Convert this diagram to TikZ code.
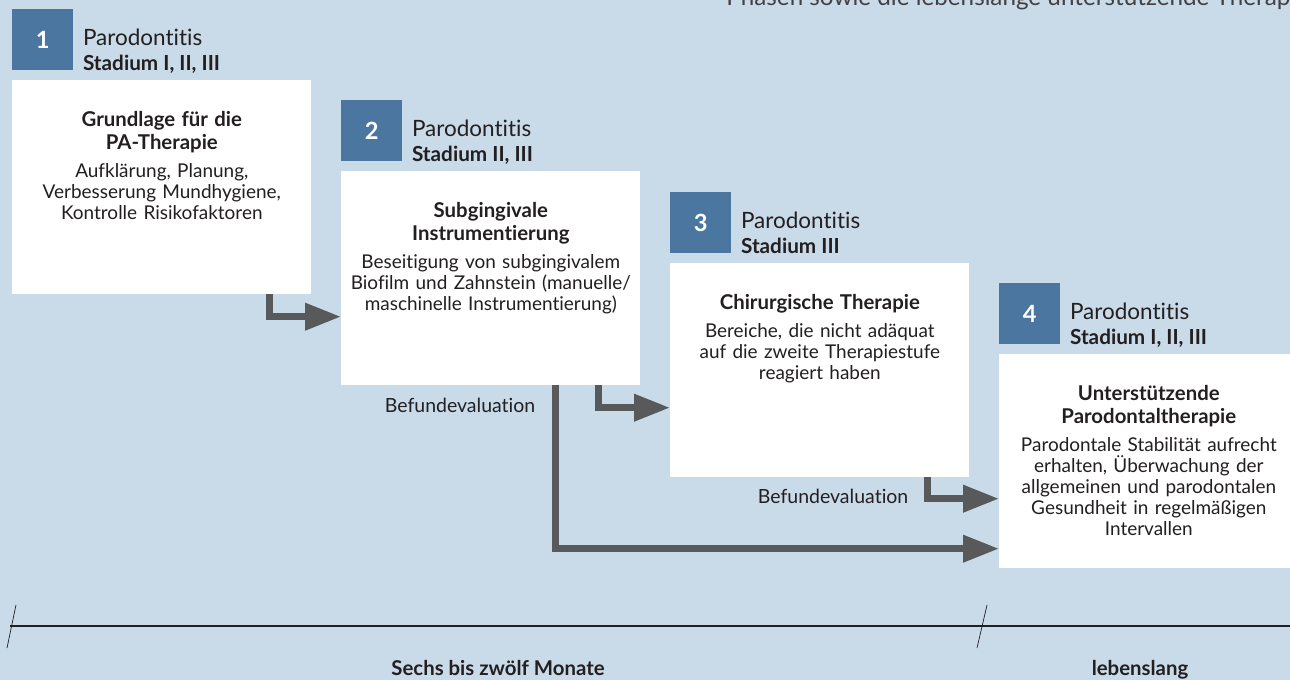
\documentclass[tikz,border=0pt]{standalone}
\usepackage{fontspec}
\setmainfont{Lato}[Ligatures={NoCommon}]
\usetikzlibrary{positioning,calc,arrows.meta}
\definecolor{bgblue}{RGB}{201,218,233}
\definecolor{badgeblue}{RGB}{74,118,160}
\definecolor{arrowgrey}{RGB}{88,89,91}
\definecolor{textdark}{RGB}{35,31,32}
\tikzset{
	card/.style={anchor=north west,fill=white,minimum width=5.98cm,minimum height=4.28cm,inner sep=0},
	badge/.style={anchor=north west,fill=badgeblue,minimum size=1.22cm,inner sep=0,text=white,font=\fontsize{13.5}{13.5}\selectfont\bfseries},
	phase/.style={anchor=base west,inner sep=0,text=textdark,font=\fontsize{12.8}{13}\selectfont},
	stage/.style={anchor=base west,inner sep=0,text=textdark,font=\fontsize{11.8}{13}\selectfont\bfseries},
	cardtext/.style={anchor=north,inner sep=0,text width=5.8cm,align=center,text=textdark,font=\fontsize{10.8}{12}\selectfont},
	flow/.style={draw=arrowgrey,line width=0.14cm,-{Triangle[length=0.72cm,width=0.52cm]}},
	evaltext/.style={anchor=base east,inner sep=0,text=textdark,font=\fontsize{11.1}{12}\selectfont},
	spantext/.style={anchor=base,inner sep=0,text=textdark,font=\fontsize{11.6}{12}\selectfont\bfseries},
}
\newcommand{\cardtitle}[1]{{\fontsize{11.6}{13}\selectfont\bfseries #1}}

\begin{document}
\begin{tikzpicture}[x=0.02cm,y=-0.02cm]
	%\draw[help lines] (0,0) grid[step=50] (1290,680);
	\fill[bgblue] (0,0) rectangle (1290,680);
	\useasboundingbox (0,0) rectangle (1290,680);
	\clip (0,0) rectangle (1290,680);
	\node[anchor=base west,inner sep=0,text=textdark!85,font=\fontsize{13.8}{14}\selectfont] (intro) at (726,5) {Phasen sowie die lebenslange unterstützende Therapie};

	\node[badge] (b1) at (12,9) {1};
	\node[badge] (b2) at (341,100) {2};
	\node[badge] (b3) at (670,192) {3};
	\node[badge] (b4) at (999,283) {4};

	\node[phase] (p1) at ($(b1.north east)+(9,36)$) {Parodontitis};
	\node[phase] (p2) at ($(b2.north east)+(9,36)$) {Parodontitis};
	\node[phase] (p3) at ($(b3.north east)+(9,36)$) {Parodontitis};
	\node[phase] (p4) at ($(b4.north east)+(9,36)$) {Parodontitis};
	\node[stage] (s1) at ($(b1.south east)+(9,0)$) {Stadium I, II, III};
	\node[stage] (s2) at ($(b2.south east)+(9,0)$) {Stadium II, III};
	\node[stage] (s3) at ($(b3.south east)+(9,0)$) {Stadium III};
	\node[stage] (s4) at ($(b4.south east)+(9,0)$) {Stadium I, II, III};

	\node[card, below right=0.18cm and 0cm of b1.south west] (c1) {};
	\node[card, below right=0.18cm and 0cm of b2.south west] (c2) {};
	\node[card, below right=0.18cm and 0cm of b3.south west] (c3) {};
	\node[card, below right=0.18cm and 0cm of b4.south west] (c4) {};

	\node[cardtext] (t1) at ($(c1.north)+(0,31)$) {\cardtitle{Grundlage für die}\\[1pt] \cardtitle{PA-Therapie}\\[4pt] Aufklärung, Planung,\\ Verbesserung Mundhygiene,\\ Kontrolle Risikofaktoren};
	\node[cardtext] (t2) at ($(c2.north)+(0,31)$) {\cardtitle{Subgingivale}\\[1pt] \cardtitle{Instrumentierung}\\[4pt] Beseitigung von subgingivalem\\ Biofilm und Zahnstein (manuelle/\\ maschinelle Instrumentierung)};
	\node[cardtext] (t3) at ($(c3.north)+(0,31)$) {\cardtitle{Chirurgische Therapie}\\[4pt] Bereiche, die nicht adäquat\\ auf die zweite Therapiestufe\\ reagiert haben};
	\node[cardtext] (t4) at ($(c4.north)+(0,31)$) {\cardtitle{Unterstützende}\\[1pt] \cardtitle{Parodontaltherapie}\\[4pt] Parodontale Stabilität aufrecht\\ erhalten, Überwachung der\\ allgemeinen und parodontalen\\ Gesundheit in regelmäßigen\\ Intervallen};

	\draw[flow] ($(c1.south east)+(-42,0)$) |- ($(c2.north west)+(0,146)$);
	\draw[flow] ($(c2.south east)+(-42,0)$) |- ($(c3.north west)+(0,145)$);
	\draw[flow] ($(c3.south east)+(-42,0)$) |- ($(c4.north west)+(0,145)$);
	\draw[flow] ($(c2.south east)+(-85,0)$) |- ($(c4.north west)+(0,195)$);
	\node[evaltext] (e1) at ($(c2.south east)+(-105,27)$) {Befundevaluation};
	\node[evaltext] (e2) at ($(c3.south east)+(-61,26)$) {Befundevaluation};

	\coordinate (l0) at (10,626);
	\coordinate (l1) at (1290,626);
	\draw[line width=0.04cm,textdark] (l0) -- (l1);
	\draw[textdark,thin] (7,648) -- (16,605);
	\draw[textdark,thin] (977,648) -- (987,605);
	\node[spantext] (d1) at (498,675) {Sechs bis zwölf Monate};
	\node[spantext] (d2) at (1140,675) {lebenslang};
\end{tikzpicture}
\end{document}
